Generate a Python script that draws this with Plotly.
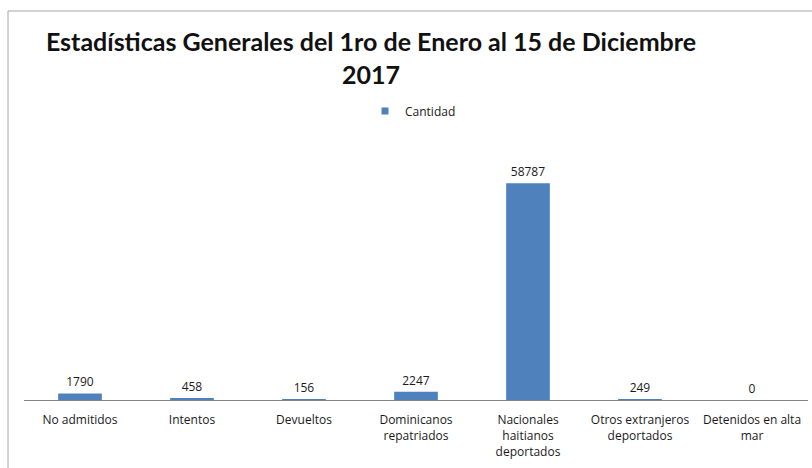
import plotly.graph_objects as go

categories = ["No admitidos", "Intentos", "Devueltos", "Dominicanos<br>repatriados",
              "Nacionales<br>haitianos<br>deportados", "Otros extranjeros<br>deportados",
              "Detenidos en alta<br>mar"]
cantidad = [1790, 458, 156, 2247, 58787, 249, 0]
series_name = "Cantidad"
title_text = "Estadísticas Generales del 1ro de Enero al 15 de Diciembre<br>2017"

W, H = 812, 468
L, R, T, B = 24, 4, 142, 68
pw = W - L - R
ph = H - T - B
BLUE = "#4F81BD"
TXT = "#1a1a1a"

fig = go.Figure()
fig.add_trace(go.Bar(
    x=categories, y=cantidad, name=series_name,
    marker=dict(color=BLUE, line=dict(width=0)),
    width=0.39,
    text=[str(v) for v in cantidad], textposition="outside",
    textfont=dict(family="Open Sans, sans-serif", size=12, color=TXT),
    cliponaxis=False,
    showlegend=False,
))
# legend entry with a small square symbol
fig.add_trace(go.Scatter(
    x=[None], y=[None], mode="markers", name=series_name,
    marker=dict(symbol="square", size=7, color=BLUE),
    showlegend=True, hoverinfo="skip",
))

fig.update_layout(
    width=W, height=H,
    margin=dict(l=L, r=R, t=T, b=B, autoexpand=False),
    paper_bgcolor="white", plot_bgcolor="white",
    font=dict(family="Open Sans, sans-serif", size=12, color=TXT),
    title=dict(text=title_text, x=371 / W, xanchor="center", y=1 - 51 / H, yanchor="top",
               font=dict(family="Lato, Open Sans, sans-serif", size=25, color="#111111",
                         weight="bold")),
    legend=dict(orientation="h", x=(365 - L) / pw, xanchor="left",
                y=(H - B - 111) / ph, yanchor="middle",
                font=dict(size=12, color=TXT), itemwidth=30),
    bargap=0.6,
    xaxis=dict(showline=True, linecolor="#868686", linewidth=1, ticks="",
               showgrid=False, automargin=False, ticklabelstandoff=9,
               tickfont=dict(family="Open Sans, sans-serif", size=12, color=TXT)),
    yaxis=dict(range=[0, 70000], visible=False, showgrid=False, zeroline=False,
               automargin=False),
    shapes=[
        dict(type="line", xref="paper", yref="paper",
             x0=(8 - L) / pw, x1=(8 - L) / pw, y0=(H - B - 11) / ph, y1=(H - B - H) / ph - 0.01,
             line=dict(color="#A6A6A6", width=1)),
        dict(type="line", xref="paper", yref="paper",
             x0=(8 - L) / pw, x1=1.01, y0=(H - B - 11) / ph, y1=(H - B - 11) / ph,
             line=dict(color="#A6A6A6", width=1)),
    ],
)

fig.write_html("out.html", config={"displayModeBar": False},
               post_script="document.body.style.margin='0';document.body.style.overflow='hidden';")
